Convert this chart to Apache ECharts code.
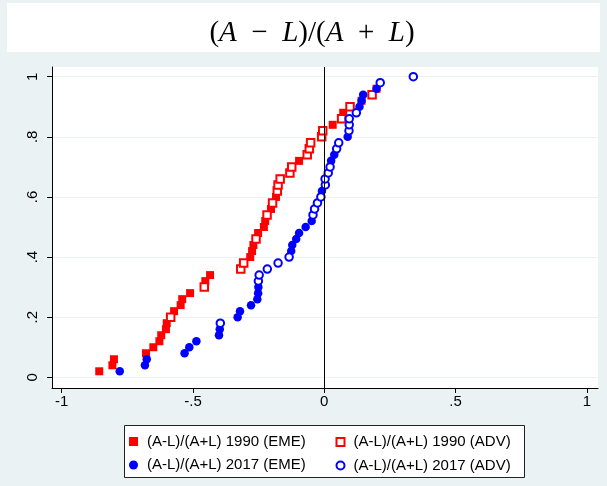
<!DOCTYPE html>
<html>
<head>
<meta charset="utf-8">
<script src="https://cdn.jsdelivr.net/npm/echarts@6/dist/echarts.min.js"></script>
<style>html,body{margin:0;padding:0;background:#eaf2f3;}#c{width:607px;height:486px;}</style>
</head>
<body>
<div id="c"></div>
<script>
// ---- data ----
const eme1990X = [-0.857,-0.807,-0.801,-0.679,-0.651,-0.628,-0.621,-0.603,-0.600,-0.572,-0.547,-0.541,-0.511,-0.453,-0.435,-0.282,-0.275,-0.270,-0.252,-0.230,-0.225,-0.203,-0.184,-0.096,0.032,0.072,0.142,0.199];
const eme1990Y = [0.02,0.04,0.06,0.08,0.10,0.12,0.14,0.16,0.18,0.22,0.24,0.26,0.28,0.32,0.34,0.40,0.42,0.44,0.48,0.50,0.52,0.56,0.60,0.72,0.84,0.88,0.92,0.96];
const adv1990X = [-0.585,-0.457,-0.318,-0.307,-0.260,-0.218,-0.197,-0.179,-0.176,-0.168,-0.131,-0.124,-0.065,-0.057,-0.052,-0.010,-0.006,0.066,0.098,0.182];
const adv1990Y = [0.20,0.30,0.36,0.38,0.46,0.54,0.58,0.62,0.64,0.66,0.68,0.70,0.74,0.76,0.78,0.80,0.82,0.86,0.90,0.94];
const eme2017X = [-0.779,-0.683,-0.676,-0.532,-0.514,-0.487,-0.401,-0.398,-0.330,-0.321,-0.279,-0.255,-0.252,-0.251,-0.126,-0.122,-0.107,-0.096,-0.071,-0.048,-0.009,0.026,0.038,0.089,0.134,0.142,0.148,0.199];
const eme2017Y = [0.02,0.04,0.06,0.08,0.10,0.12,0.14,0.16,0.20,0.22,0.24,0.26,0.28,0.30,0.42,0.44,0.46,0.48,0.50,0.52,0.62,0.72,0.74,0.80,0.90,0.92,0.94,0.96];
const adv2017X = [-0.396,-0.251,-0.248,-0.217,-0.176,-0.134,-0.043,-0.037,-0.026,-0.013,0.004,0.003,0.015,0.022,0.047,0.055,0.094,0.095,0.095,0.122,0.213,0.339];
const adv2017Y = [0.18,0.32,0.34,0.36,0.38,0.40,0.54,0.56,0.58,0.60,0.64,0.66,0.68,0.70,0.76,0.78,0.82,0.84,0.86,0.88,0.98,1.00];
const xTicks = [-1,-0.5,0,0.5,1];
const xTickLabels = ['-1','-.5','0','.5','1'];
const yTicks = [0,0.2,0.4,0.6,0.8,1];
const yTickLabels = ['0','.2','.4','.6','.8','1'];
const seriesNames = ['(A-L)/(A+L) 1990 (EME)','(A-L)/(A+L) 1990 (ADV)','(A-L)/(A+L) 2017 (EME)','(A-L)/(A+L) 2017 (ADV)'];
const refLineX = 0;

const pairs = (xs, ys) => xs.map((x, i) => [x, ys[i]]);
const FONT = "'Liberation Sans', Arial, sans-serif";
const RED = '#ff0000', BLUE = '#0000ff';

function fmt(list, labels) {
  return v => {
    for (let i = 0; i < list.length; i++) if (Math.abs(list[i] - v) < 1e-9) return labels[i];
    return '';
  };
}

const legendText = {fontFamily: FONT, fontSize: 15, lineHeight: 15, color: '#000', padding: [0, 0, 0, 4]};

const chart = echarts.init(document.getElementById('c'), null, {renderer: 'canvas'});
chart.setOption({
  backgroundColor: '#eaf2f3',
  animation: false,
  graphic: [
    {type: 'rect', shape: {x: 7, y: 3, width: 593, height: 49}, style: {fill: '#ffffff'}, z: -1},
    {type: 'rect', shape: {x: 124.5, y: 425.5, width: 400, height: 52}, style: {fill: '#ffffff', stroke: '#222', lineWidth: 1}, z: 0}
  ],
  title: {
    text: '{n|(}{i|A}{n|  −  }{i|L}{n|)/(}{i|A}{n|  +  }{i|L}{n|)}',
    left: 307, top: 14, textAlign: 'center',
    textStyle: {
      fontWeight: 'normal',
      rich: {
        n: {fontFamily: "'Liberation Serif', serif", fontSize: 29, fontWeight: 'normal', color: '#000'},
        i: {fontFamily: "'Liberation Serif', serif", fontSize: 29, fontWeight: 'normal', fontStyle: 'italic', color: '#000'}
      }
    }
  },
  grid: {left: 52, top: 67, width: 546, height: 321, show: true, backgroundColor: '#ffffff', borderWidth: 0},
  xAxis: {
    type: 'value', min: -1.0369, max: 1.0423,
    axisLine: {show: true, onZero: false, lineStyle: {color: '#000', width: 1}},
    axisTick: {show: true, length: 5, customValues: xTicks, lineStyle: {color: '#000'}},
    axisLabel: {customValues: xTicks, formatter: fmt(xTicks, xTickLabels), color: '#000', fontFamily: FONT, fontSize: 15, margin: 6},
    splitLine: {show: false}
  },
  yAxis: {
    type: 'value', min: -0.0356, max: 1.0323,
    axisLine: {show: true, onZero: false, lineStyle: {color: '#000', width: 1}},
    axisTick: {show: true, length: 5, customValues: yTicks, lineStyle: {color: '#000'}},
    axisLabel: {customValues: yTicks, formatter: fmt(yTicks, yTickLabels), rotate: 90, color: '#000', fontFamily: FONT, fontSize: 15, margin: 12},
    splitLine: {show: true, lineStyle: {color: '#eaf2f3', width: 1.2}}
  },
  legend: [
    {
      data: [
        {name: seriesNames[0], icon: 'rect', itemStyle: {color: RED}},
        {name: seriesNames[2], icon: 'circle', itemStyle: {color: BLUE}}
      ],
      orient: 'vertical', left: 129, top: 434, padding: 0, itemWidth: 9, itemHeight: 9, itemGap: 8.5,
      textStyle: legendText, selectedMode: false
    },
    {
      data: [
        {name: seriesNames[1], icon: 'emptyRect', itemStyle: {color: RED, borderColor: RED, borderWidth: 1.2}},
        {name: seriesNames[3], icon: 'emptyCircle', itemStyle: {color: BLUE, borderColor: BLUE, borderWidth: 1.2}}
      ],
      orient: 'vertical', left: 335.5, top: 434.5, padding: 0, itemWidth: 8, itemHeight: 8, itemGap: 8.5,
      textStyle: legendText, selectedMode: false
    }
  ],
  series: [
    {
      name: seriesNames[0], type: 'scatter', symbol: 'rect', symbolSize: 8,
      itemStyle: {color: RED, opacity: 1}, data: pairs(eme1990X, eme1990Y),
      markLine: {
        silent: true, symbol: ['none', 'none'], label: {show: false},
        lineStyle: {color: '#000', width: 1, type: 'solid'},
        data: [{xAxis: refLineX}]
      }
    },
    {
      name: seriesNames[1], type: 'scatter', symbol: 'emptyRect', symbolSize: 7.5,
      itemStyle: {color: RED, borderColor: RED, borderWidth: 1.3, opacity: 1}, data: pairs(adv1990X, adv1990Y)
    },
    {
      name: seriesNames[2], type: 'scatter', symbol: 'circle', symbolSize: 8.5,
      itemStyle: {color: BLUE, opacity: 1}, data: pairs(eme2017X, eme2017Y)
    },
    {
      name: seriesNames[3], type: 'scatter', symbol: 'emptyCircle', symbolSize: 7.5,
      itemStyle: {color: BLUE, borderColor: BLUE, borderWidth: 1.3, opacity: 1}, data: pairs(adv2017X, adv2017Y)
    }
  ]
});
</script>
</body>
</html>
